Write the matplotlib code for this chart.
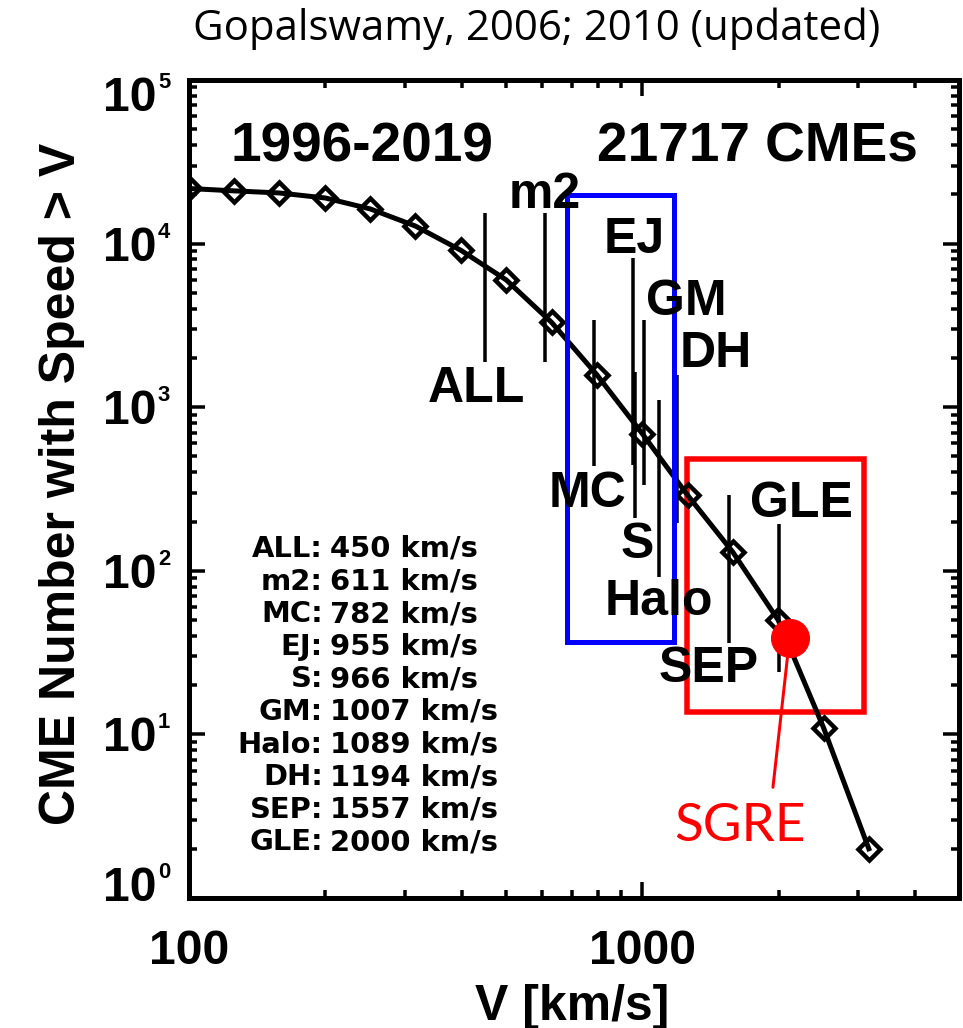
import numpy as np
import matplotlib
matplotlib.use('Agg')
import matplotlib.pyplot as plt
from matplotlib.patches import Rectangle
from matplotlib.ticker import LogLocator, NullFormatter, FixedLocator

# cumulative number of CMEs faster than V (0.1 dex speed bins)
speed = [100, 126, 158, 200, 251, 316, 398, 501, 631, 794, 1000, 1259, 1585, 1995, 2512, 3162]
n_cme = [21717, 21000, 20400, 19000, 16300, 12800, 9100, 6000, 3300, 1580, 690, 290, 130, 50, 11, 2]

# CME populations: mean speed and vertical range bar
pop_names = ['ALL', 'm2', 'MC', 'EJ', 'S', 'GM', 'Halo', 'DH', 'SEP', 'GLE']
pop_speed = [450, 611, 782, 955, 966, 1007, 1089, 1194, 1557, 2000]
bar_top = [15400, 15400, 3410, 8170, 1640, 3410, 1110, 1570, 291, 193]
bar_bottom = [1890, 1890, 437, 443, 210, 335, 92, 196, 36, 24]

# boxes (vmin, vmax, nmin, nmax)
blue_box = [682, 1178, 36.7, 19800]
red_box = [1258, 3083, 13.7, 482]

# SGRE event
sgre_speed = [2115]
sgre_n = [39]

# where each population name sits relative to its bar: (above?, ha, dx, dy) in points
label_place = {
    'ALL': (False, 'center', -9, -40),
    'm2': (True, 'center', 0, 5),
    'MC': (False, 'center', -6, -41),
    'EJ': (True, 'center', 1, 5),
    'S': (False, 'center', 2, -40),
    'GM': (True, 'left', 2, 5),
    'Halo': (False, 'center', 0, -38),
    'DH': (True, 'left', 3, 8),
    'SEP': (False, 'center', -21, -39),
    'GLE': (True, 'center', 23, 7),
}

BOLD = 'Liberation Sans'

fig = plt.figure(figsize=(963 / 72, 1028 / 72), dpi=72)
ax = fig.add_axes([189 / 963, 130 / 1028, 770 / 963, 818 / 1028])
ax.set_xscale('log')
ax.set_yscale('log')
ax.set_xlim(100, 5000)
ax.set_ylim(1, 1e5)

# range bars for each population
ax.vlines(pop_speed, bar_bottom, bar_top, colors='black', lw=3.5, zorder=2)

# red box behind the curve, blue box on top
ax.add_patch(Rectangle((red_box[0], red_box[2]), red_box[1] - red_box[0], red_box[3] - red_box[2],
                       fill=False, ec='#ff0000', lw=5.5, zorder=1))
ax.plot(speed, n_cme, color='black', lw=5, marker='D', ms=16, mew=4.5,
        mfc='none', mec='black', zorder=3)
ax.add_patch(Rectangle((blue_box[0], blue_box[2]), blue_box[1] - blue_box[0], blue_box[3] - blue_box[2],
                       fill=False, ec='#0000ff', lw=5, zorder=4))

# population labels
for name, v, top, bot in zip(pop_names, pop_speed, bar_top, bar_bottom):
    above, ha, dx, dy = label_place[name]
    ax.annotate(name, xy=(v, top if above else bot), xytext=(dx, dy),
                textcoords='offset points', ha=ha, va='baseline',
                fontsize=50, fontweight='bold', family=BOLD, zorder=5)

# SGRE marker and pointer
ax.plot(sgre_speed, sgre_n, 'o', color='#ff0000', ms=38, zorder=6)
ax.annotate('SGRE', xy=(sgre_speed[0], sgre_n[0]), xytext=(-50, -189),
            textcoords='offset points', ha='center', va='center',
            fontsize=53, color='#ff0000', family='Lato',
            arrowprops=dict(arrowstyle='-', color='#ff0000', lw=3,
                            relpos=(0.74, 1.0), shrinkA=14, shrinkB=0),
            zorder=6)

# header texts inside the frame
ax.text(0.2247, 0.8998, '1996-2019', transform=ax.transAxes, ha='center', va='baseline',
        fontsize=55, fontweight='bold', family=BOLD)
ax.text(0.7377, 0.8998, '21717 CMEs', transform=ax.transAxes, ha='center', va='baseline',
        fontsize=55, fontweight='bold', family=BOLD)

# mean speed list, aligned on the colon
for i, (name, v) in enumerate(zip(pop_names, pop_speed)):
    yb = 0.4169 - i * 0.03985
    ax.text(0.1740, yb, name + ':', transform=ax.transAxes, ha='right', va='baseline',
            fontsize=29, fontweight='bold', family='DejaVu Sans')
    ax.text(0.1830, yb, '%d km/s' % v, transform=ax.transAxes, ha='left', va='baseline',
            fontsize=29, fontweight='bold', family='DejaVu Sans')

# axes frame and ticks
for sp in ax.spines.values():
    sp.set_linewidth(5)
ax.tick_params(which='both', direction='in', top=True, right=True)
ax.tick_params(which='major', length=16, width=3.5, pad=31)
ax.tick_params(which='minor', length=8, width=3.5)

ax.xaxis.set_major_locator(FixedLocator([100, 1000]))
ax.xaxis.set_minor_locator(LogLocator(base=10, subs=np.arange(2, 10), numticks=20))
ax.xaxis.set_minor_formatter(NullFormatter())
ax.set_xticklabels(['100', '1000'], fontsize=48, fontweight='bold', family=BOLD)

decades = [0, 1, 2, 3, 4, 5]
ax.yaxis.set_major_locator(FixedLocator([10.0 ** k for k in decades]))
ax.yaxis.set_minor_locator(LogLocator(base=10, subs=np.arange(2, 10), numticks=20))
ax.yaxis.set_minor_formatter(NullFormatter())
ax.set_yticklabels([''] * len(decades))

# y tick labels as 10 with a small raised exponent
for k in decades:
    shift = 0
    if k == decades[0]:
        shift = 14
    elif k == decades[-1]:
        shift = -14
    ax.annotate('10', xy=(0, 10.0 ** k), xycoords=('axes fraction', 'data'),
                xytext=(-32, -17 + shift), textcoords='offset points',
                ha='right', va='baseline', fontsize=48, fontweight='bold', family=BOLD,
                annotation_clip=False)
    ax.annotate(str(k), xy=(0, 10.0 ** k), xycoords=('axes fraction', 'data'),
                xytext=(-31, 6 + shift), textcoords='offset points',
                ha='left', va='baseline', fontsize=22, fontweight='bold', family=BOLD,
                annotation_clip=False)

fig.text(572 / 963, 8 / 1028, 'V [km/s]', ha='center', va='baseline',
         fontsize=50, fontweight='bold', family=BOLD)
fig.text(62 / 963, 544 / 1028, 'CME Number with Speed > V', rotation=90,
         ha='center', va='center', fontsize=50, fontweight='bold', family=BOLD)
fig.text(537 / 963, 1 - 40 / 1028, 'Gopalswamy, 2006; 2010 (updated)',
         ha='center', va='baseline', fontsize=42, family='Open Sans')

fig.savefig('out.png', dpi=72)
